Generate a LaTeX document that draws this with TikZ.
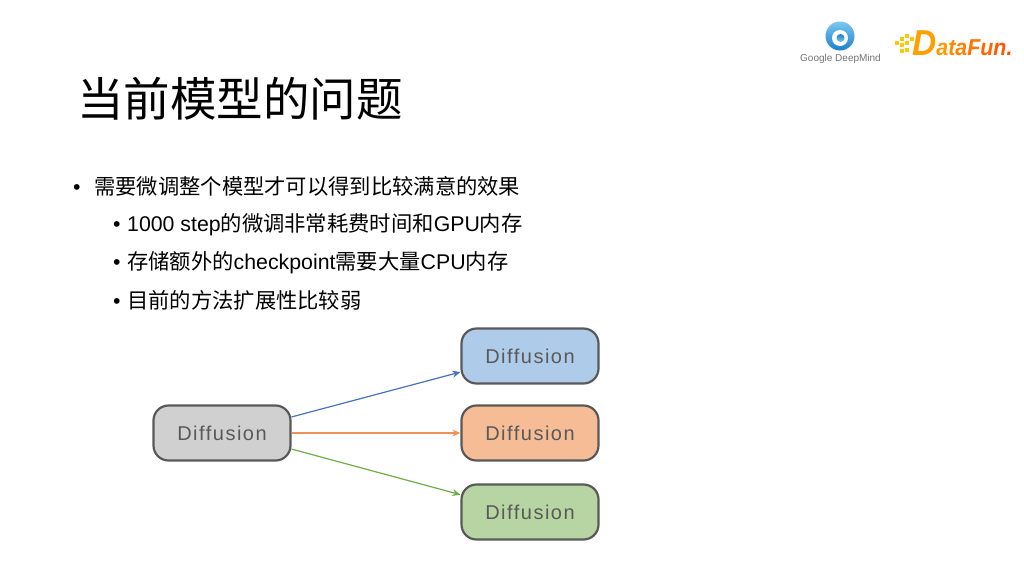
\documentclass[tikz,border=0pt]{standalone}
\usepackage{fontspec}
\usepackage{tikz}
\usetikzlibrary{arrows.meta}
\setmainfont{Liberation Sans}
\newfontfamily\cjk{Noto Sans CJK SC}
\newfontfamily\boxfont[LetterSpace=7.5]{Liberation Sans}
\newfontfamily\logofont{Liberation Sans}
\newfontfamily\funfont[FakeStretch=0.93]{Liberation Sans}

\definecolor{boxline}{HTML}{595959}
\definecolor{boxgray}{HTML}{D0D0D0}
\definecolor{boxblue}{HTML}{AECCEA}
\definecolor{boxorange}{HTML}{F6BC96}
\definecolor{boxgreen}{HTML}{B7D5A2}
\definecolor{lineblue}{HTML}{4472C4}
\definecolor{lineorange}{HTML}{F0915A}
\definecolor{linegreen}{HTML}{70AD47}
\definecolor{mindlight}{HTML}{7CC8EE}
\definecolor{minddark}{HTML}{1C80CC}

\begin{document}
\begin{tikzpicture}[x=1pt,y=-1pt,>={Stealth[length=8pt,width=7pt]},node distance=308pt,
                    model/.style={draw=boxline,line width=2.2pt,rounded corners=15pt,
                      minimum width=137pt,minimum height=55pt,inner sep=0pt,
                      text=boxline,font=\boxfont\fontsize{20}{24}\selectfont},
                    line1/.style={anchor=base west,inner sep=0pt,text=black,font=\fontsize{21.3}{26}\selectfont},
                    title/.style={anchor=west,inner sep=0pt,text=black,font=\cjk\fontsize{46.5}{56}\selectfont},
                    logotext/.style={inner sep=0pt,font=\logofont\fontsize{10}{12}\selectfont,text=black!55}]
  \useasboundingbox (0,0) rectangle (1024,576);

  \node[title] (T) at (77,99) {当前模型的问题};

  \node[line1] (L1) at (73,194) {\makebox[21pt][l]{•}{\cjk 需要微调整个模型才可以得到比较满意的效果}};
  \node[line1] (L2) at (113,231) {\makebox[14pt][l]{•}1000 step{\cjk 的微调非常耗费时间和}GPU{\cjk 内存}};
  \node[line1] (L3) at (113,269) {\makebox[14pt][l]{•}{\cjk 存储额外的}checkpoint{\cjk 需要大量}CPU{\cjk 内存}};
  \node[line1] (L4) at (113,308) {\makebox[14pt][l]{•}{\cjk 目前的方法扩展性比较弱}};

  \node[model,fill=boxgray]   (S) at (222,433) {Diffusion};
  \node[model,fill=boxorange] (O) [right of=S] {Diffusion};
  \node[model,fill=boxblue]   (B) [above of=O,node distance=77pt] {Diffusion};
  \node[model,fill=boxgreen]  (G) [below of=O,node distance=79pt] {Diffusion};

  \path[->,line width=1.2pt]
        (S.13.8)  edge [lineblue]   (B.193.8)
        (S.east)  edge [lineorange] (O.west)
        (S.-13.8) edge [linegreen]  (G.166.2);

  % logos
  \shade[top color=mindlight,bottom color=minddark] (840,36) circle (14.5);
  \fill[white] (840,38) circle (8);
  \shade[top color=minddark,bottom color=mindlight] (840.5,38) circle (4);
  \node[logotext] (DM) at (840.5,59) {Google DeepMind};

  \foreach \px/\py in {895/41,900/37,905/34,900/43,905/41,900/49,905/48,910/37}
    \fill[yellow!60!orange] (\px,\py) rectangle +(3.5,3.5);
  \node[inner sep=0pt,anchor=base west,font=\funfont\bfseries\itshape\fontsize{23}{24}\selectfont] (DF) at (912,55)
    {\textcolor{orange!75!yellow}{\fontsize{36}{36}\selectfont D}\textcolor{orange!80!yellow}{a}\textcolor{orange!90!yellow}{t}\textcolor{orange}{a}\textcolor{orange!90!red}{F}\textcolor{orange!80!red}{u}\textcolor{orange!70!red}{n}\textcolor{orange!60!red}{.}};
\end{tikzpicture}
\end{document}
